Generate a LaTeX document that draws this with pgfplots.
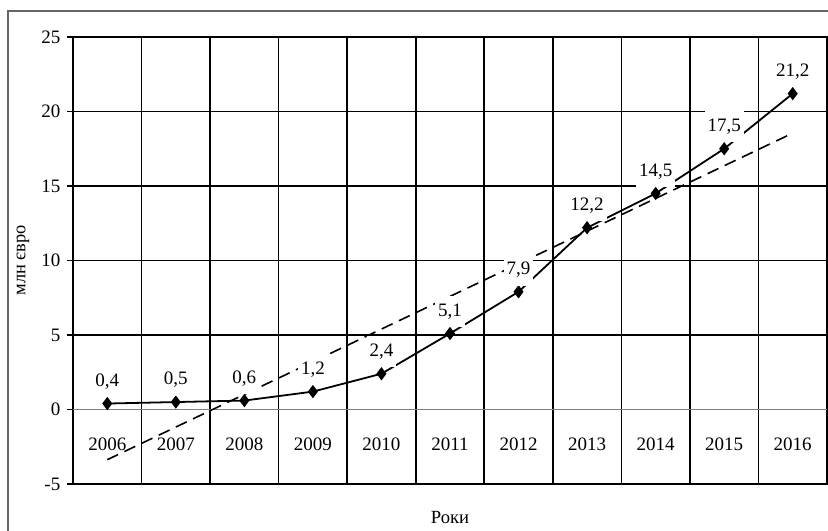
\documentclass[border=0pt]{standalone}
\usepackage{pgfplots}
\pgfplotsset{compat=1.18}
\usepackage{fontspec}
\setmainfont{Liberation Serif}
\begin{document}
\fontsize{9.5}{11}\selectfont
\begin{tikzpicture}
\useasboundingbox (-36.5pt,-23pt) rectangle (377.5pt,242pt);
\draw[gray!80!black, line width=0.6pt] (-32.5pt,-30pt) -- (-32.5pt,236.5pt) -- (390pt,236.5pt);
\begin{axis}[
  scale only axis,
  width=377pt, height=223.5pt,
  xmin=-0.5, xmax=10.5, ymin=-5, ymax=25,
  xtick={0,...,10},
  xticklabels={2006,2007,2008,2009,2010,2011,2012,2013,2014,2015,2016},
  minor xtick={-0.5,0.5,...,10.5},
  ytick={-5,0,5,10,15,20,25},
  ymajorgrids, xminorgrids,
  grid style={black, line width=0.8pt},
  minor grid style={black, line width=0.8pt},
  axis line style={black, line width=0.8pt},
  x tick style={draw=none},
  minor x tick style={draw=none},
  y tick style={black, line width=0.7pt},
  tick align=outside, major tick length=3pt,
  x tick label style={anchor=center, yshift=23pt},
  yticklabel style={xshift=0pt},
  /pgf/number format/assume math mode=true,
  ticklabel style={font=\fontsize{9.5}{11}\selectfont},
  ylabel={млн євро},
  ylabel style={at={(axis description cs:-0.0663,0.5)}, anchor=center, font=\fontsize{9.2}{10}\selectfont},
  xlabel={Роки},
  xlabel style={at={(axis description cs:0.5,-0.076)}, anchor=center, font=\fontsize{9.3}{10}\selectfont},
  clip=false,
]
\addplot[gray, line width=0.8pt, forget plot] coordinates {(-0.5,0) (10.5,0)};
\addplot[black, line width=0.8pt, dash pattern=on 6pt off 3.5pt] coordinates {(0,-3.37) (10,18.55)};
\addplot[black, line width=0.9pt, mark=diamond*, mark size=2.6pt, mark options={solid},
  nodes near coords, point meta=explicit symbolic,
  every node near coord/.append style={anchor=center, yshift=11pt, fill=white, inner xsep=1.5pt, inner ysep=4pt, font=\fontsize{9.5}{11}\selectfont}]
  coordinates {
  (0,0.4) [0,4]
  (1,0.5) [0,5]
  (2,0.6) [0,6]
  (3,1.2) [1,2]
  (4,2.4) [2,4]
  (5,5.1) [5,1]
  (6,7.9) [7,9]
  (7,12.2) [12,2]
  (8,14.5) [14,5]
  (9,17.5) [17,5]
  (10,21.2) [21,2]
};
\end{axis}
\end{tikzpicture}
\end{document}
